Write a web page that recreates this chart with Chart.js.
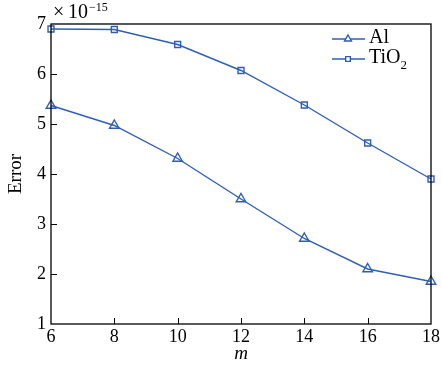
<!DOCTYPE html>
<html>
<head>
<meta charset="utf-8">
<script src="https://cdn.jsdelivr.net/npm/chart.js@4.4.1/dist/chart.umd.min.js"></script>
<style>
  html, body { margin: 0; padding: 0; background: #fff; }
  #wrap { width: 442px; height: 368px; }
</style>
</head>
<body>
<div id="wrap"><canvas id="c" width="442" height="368"></canvas></div>
<script>
// m values on the x axis
const mValues = [6, 8, 10, 12, 14, 16, 18];
// error (in units of 1e-15)
const errAl = [5.37, 4.97, 4.31, 3.50, 2.71, 2.10, 1.85];
const errTiO2 = [6.90, 6.89, 6.59, 6.07, 5.38, 4.62, 3.90];
const xTicks = [6, 8, 10, 12, 14, 16, 18];
const yTicks = [1, 2, 3, 4, 5, 6, 7];

const BLUE = '#2f5fb3';
const FONT = '"Liberation Serif", "DejaVu Serif", serif';

const toPts = (ys) => mValues.map((x, i) => ({ x, y: ys[i] }));

// frame, inward ticks, exponent label and legend
const decor = {
  id: 'decor',
  afterDraw(chart) {
    const { ctx, chartArea: a, scales: { x, y } } = chart;
    ctx.save();
    ctx.strokeStyle = '#000';
    ctx.lineWidth = 1.3;
    ctx.strokeRect(a.left, a.top, a.right - a.left, a.bottom - a.top);
    ctx.lineWidth = 1;
    ctx.beginPath();
    xTicks.slice(1, -1).forEach(v => {
      const px = Math.round(x.getPixelForValue(v)) + 0.5;
      ctx.moveTo(px, a.bottom); ctx.lineTo(px, a.bottom - 6);
    });
    yTicks.slice(1, -1).forEach(v => {
      const py = Math.round(y.getPixelForValue(v)) + 0.5;
      ctx.moveTo(a.left, py); ctx.lineTo(a.left + 6, py);
    });
    ctx.stroke();

    // exponent
    ctx.fillStyle = '#000';
    ctx.textBaseline = 'alphabetic';
    ctx.textAlign = 'left';
    ctx.font = '20px ' + FONT;
    ctx.fillText('×', a.left + 2, 18);
    ctx.fillText('10', a.left + 17, 18);
    ctx.font = '12px ' + FONT;
    ctx.fillText('−15', a.left + 38, 11);

    // legend
    const items = [
      { label: 'Al', sub: '', ds: 0, yy: 39 },
      { label: 'TiO', sub: '2', ds: 1, yy: 59 }
    ];
    items.forEach(it => {
      const ds = chart.data.datasets[it.ds];
      ctx.strokeStyle = ds.borderColor;
      ctx.fillStyle = '#fff';
      ctx.lineWidth = 1.4;
      ctx.beginPath();
      ctx.moveTo(332, it.yy); ctx.lineTo(365, it.yy);
      ctx.stroke();
      Chart.helpers.drawPoint(ctx, {
        pointStyle: ds.pointStyle, radius: ds.legendRadius, borderWidth: 1.3
      }, 348, it.yy);
      ctx.fillStyle = '#000';
      ctx.font = '20px ' + FONT;
      ctx.textBaseline = 'alphabetic';
      ctx.fillText(it.label, 369, it.yy + 4);
      if (it.sub) {
        const w = ctx.measureText(it.label).width;
        ctx.font = '13px ' + FONT;
        ctx.fillText(it.sub, 369 + w, it.yy + 10);
      }
    });
    ctx.restore();
  }
};

new Chart(document.getElementById('c'), {
  type: 'line',
  data: {
    datasets: [
      {
        label: 'Al', data: toPts(errAl),
        borderColor: BLUE, backgroundColor: '#fff', borderWidth: 1.4,
        pointStyle: 'triangle', pointRadius: 5.5, legendRadius: 4,
        pointBorderColor: BLUE, pointBackgroundColor: 'rgba(255,255,255,0)',
        pointBorderWidth: 1.4, tension: 0, clip: false
      },
      {
        label: 'TiO2', data: toPts(errTiO2),
        borderColor: BLUE, backgroundColor: '#fff', borderWidth: 1.4,
        pointStyle: 'rect', pointRadius: 4.2, legendRadius: 3.3,
        pointBorderColor: BLUE, pointBackgroundColor: 'rgba(255,255,255,0)',
        pointBorderWidth: 1.4, tension: 0, clip: false
      }
    ]
  },
  options: {
    responsive: false,
    animation: false,
    events: [],
    layout: { padding: { left: 0, right: 9, top: 24, bottom: 0 } },
    plugins: { legend: { display: false }, tooltip: { enabled: false } },
    scales: {
      x: {
        type: 'linear', min: 6, max: 18,
        afterBuildTicks: (s) => { s.ticks = xTicks.map(v => ({ value: v })); },
        afterFit: (s) => { s.height = 44; },
        grid: { display: false, drawTicks: false },
        border: { display: false },
        ticks: { color: '#000', font: { family: FONT, size: 18 }, padding: 2, maxRotation: 0 },
        title: { display: true, text: 'm', color: '#000', font: { family: FONT, size: 19, style: 'italic' }, padding: { top: -4, bottom: 3 } }
      },
      y: {
        type: 'linear', min: 1, max: 7,
        afterBuildTicks: (s) => { s.ticks = yTicks.map(v => ({ value: v })); },
        afterFit: (s) => { s.width = 51; },
        grid: { display: false, drawTicks: false },
        border: { display: false },
        ticks: { color: '#000', font: { family: FONT, size: 18 }, padding: 5 },
        title: { display: true, text: 'Error', color: '#000', font: { family: FONT, size: 19 }, padding: { top: 5, bottom: 4 } }
      }
    }
  },
  plugins: [decor]
});
</script>
</body>
</html>
